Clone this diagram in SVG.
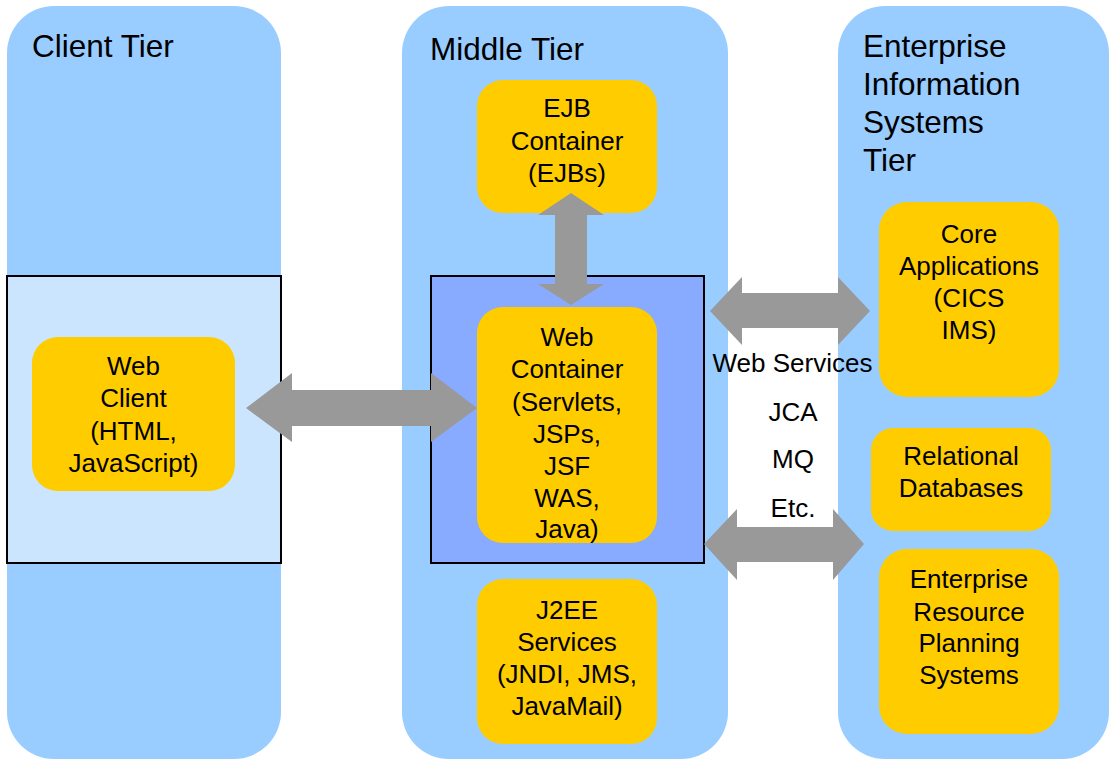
<svg xmlns="http://www.w3.org/2000/svg" width="1109" height="759" viewBox="0 0 1109 759">
<style>
.tier{fill:#99CCFF}
.box{fill:#FFCC00}
.frame{stroke:#000;stroke-width:2}
.arrow{fill:#999999}
text{font-family:"Liberation Sans",Arial,sans-serif;fill:#000}
.t{font-size:31.5px}
.l{font-size:26px;text-anchor:middle}
</style>
<rect width="1109" height="759" fill="#FFFFFF"/>
<g id="client-tier">
<rect class="tier" x="7" y="6" width="274" height="753" rx="47"/>
<text class="t" x="32" y="57">Client Tier</text>
</g>
<g id="middle-tier">
<rect class="tier" x="402" y="6" width="326" height="753" rx="47"/>
<text class="t" x="430" y="60">Middle Tier</text>
</g>
<g id="eis-tier">
<rect class="tier" x="838" y="6" width="271" height="753" rx="47"/>
<text class="t" x="863" y="57">Enterprise</text>
<text class="t" x="863" y="95">Information</text>
<text class="t" x="863" y="133">Systems</text>
<text class="t" x="863" y="171">Tier</text>
</g>
<g id="client-frame">
<rect class="frame" x="7" y="276" width="274" height="287" fill="#CCE5FF"/>
</g>
<g id="web-frame">
<rect class="frame" x="431" y="276" width="273" height="287" fill="#88AAFF"/>
</g>
<g id="web-client">
<rect class="box" x="32" y="337" width="203" height="154" rx="26"/>
<text class="l" x="133.5" y="375">Web</text>
<text class="l" x="133.5" y="407">Client</text>
<text class="l" x="133.5" y="440">(HTML,</text>
<text class="l" x="133.5" y="472">JavaScript)</text>
</g>
<g id="ejb-container">
<rect class="box" x="477" y="80" width="180" height="133" rx="26"/>
<text class="l" x="567" y="117">EJB</text>
<text class="l" x="567" y="150">Container</text>
<text class="l" x="567" y="182">(EJBs)</text>
</g>
<g id="web-container">
<rect class="box" x="477" y="307" width="180" height="236" rx="26"/>
<text class="l" x="567" y="346">Web</text>
<text class="l" x="567" y="378">Container</text>
<text class="l" x="567" y="411">(Servlets,</text>
<text class="l" x="567" y="443">JSPs,</text>
<text class="l" x="567" y="475">JSF</text>
<text class="l" x="567" y="507">WAS,</text>
<text class="l" x="567" y="538">Java)</text>
</g>
<g id="j2ee-services">
<rect class="box" x="477" y="579" width="180" height="165" rx="26"/>
<text class="l" x="567" y="619">J2EE</text>
<text class="l" x="567" y="651">Services</text>
<text class="l" x="567" y="683">(JNDI, JMS,</text>
<text class="l" x="567" y="715">JavaMail)</text>
</g>
<g id="core-applications">
<rect class="box" x="879" y="202" width="180" height="195" rx="28"/>
<text class="l" x="969" y="243">Core</text>
<text class="l" x="969" y="275">Applications</text>
<text class="l" x="969" y="307">(CICS</text>
<text class="l" x="969" y="339">IMS)</text>
</g>
<g id="relational-databases">
<rect class="box" x="871" y="428" width="180" height="103" rx="22"/>
<text class="l" x="961" y="465">Relational</text>
<text class="l" x="961" y="497">Databases</text>
</g>
<g id="erp-systems">
<rect class="box" x="879" y="549" width="180" height="185" rx="28"/>
<text class="l" x="969" y="588">Enterprise</text>
<text class="l" x="969" y="621">Resource</text>
<text class="l" x="969" y="652">Planning</text>
<text class="l" x="969" y="684">Systems</text>
</g>
<g id="connectors">
<polygon class="arrow" points="571,193 604,215 587,215 587,284 604,284 571,305 538,284 555,284 555,215 538,215"/>
<polygon class="arrow" points="246,408 292,373 292,390 431,390 431,373 477,408 431,442 431,426 292,426 292,442"/>
<polygon class="arrow" points="710,311 742,277 742,293 838,293 838,277 870,311 838,345 838,328 742,328 742,345"/>
<polygon class="arrow" points="704,544 737,509 737,527 833,527 833,509 864,544 833,580 833,562 737,562 737,580"/>
</g>
<g id="protocol-labels">
<text class="l" x="792.5" y="372">Web Services</text>
<text class="l" x="793" y="421">JCA</text>
<text class="l" x="793" y="468">MQ</text>
<text class="l" x="793" y="517">Etc.</text>
</g>
</svg>
